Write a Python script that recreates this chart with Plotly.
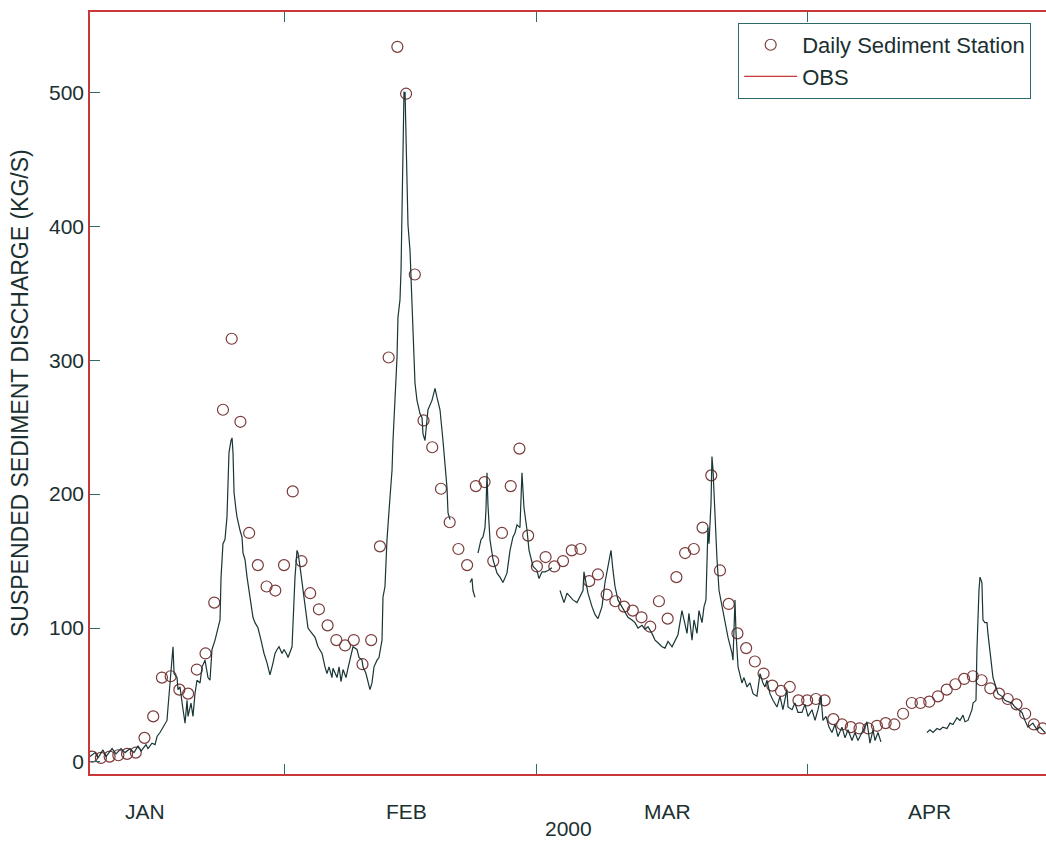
import datetime as dt
import plotly.graph_objects as go

# Daily sediment station record (kg/s), one value per day starting 10 Jan 2000
station_start = dt.datetime(2000, 1, 10)
station_kgs = [
    4, 3, 4, 5, 6, 7, 18, 34, 63, 64, 54, 51, 69, 81, 119, 263, 316, 254, 171, 147, 131, 128,
    147, 202, 150, 126, 114, 102, 91, 87, 91, 73, 91, 161, 302, 534, 499, 364, 255, 235, 204,
    179, 159, 147, 206, 209, 150, 171, 206, 234, 169,
    146, 153, 146, 150, 158, 159, 135, 140, 125, 120, 116, 113, 108, 101, 120, 107, 138, 156,
    159, 175, 214, 143, 118, 96, 85, 75, 66, 57, 53, 56, 46,
    46, 47, 46, 32, 28, 26, 25, 25, 27, 29, 28, 36, 44, 44, 45, 49, 54, 58, 62, 64, 61, 55,
    51, 47, 43, 36, 28, 25,
]

# OBS-derived discharge: time in days after 1 Jan 2000 and kg/s; None marks a gap
obs_day = [
    8.75, 9.33, 9.67, 10.24, 10.59, 11.28, 11.73, 12.31, 12.77, 13.34, 13.80, 14.26, 14.60,
    15.17, 15.40, 15.86, 16.21, 16.44, 16.78, 17.12, 17.35, 17.58, 17.70, 17.93, 18.16, 18.27,
    18.39, 18.73, 18.84, 19.07, 19.42, 19.65, 19.88, 19.99, 20.33, 20.56, 20.79, 21.02, 21.37,
    21.60, 21.94, 22.28, 22.51, 22.74, 23.09, 23.43, 23.66, 23.78, 24.00, 24.23, 24.46, 24.58,
    24.69, 24.92, 25.04, 25.15, 25.27, 25.50, 25.61, 25.95, 26.18, 26.30, 26.53, 26.76, 27.10,
    27.44, 27.67, 28.02, 28.36, 28.71, 29.05, 29.39, 29.74, 29.97, 30.20, 30.43, 30.77, 31.00,
    31.34, 31.46, 31.92, 32.26, 32.49, 32.61, 32.83, 33.18, 33.52, 33.75, 34.21, 34.56, 34.90,
    35.36, 35.70, 35.93, 36.16, 36.50, 36.62, 37.08, 37.31, 37.54, 37.77, 38.11, 38.34, 38.68,
    38.91, 39.37, 39.60, 39.94, 40.06, 40.40, 40.63, 40.86, 41.09, 41.32, 41.67, 41.89, 42.24,
    42.35, 42.58, 42.81, 43.16, 43.39, 43.50, 43.73, 43.96, 44.07, 44.30, 44.42, 44.53, 44.65,
    44.76, 44.88, 44.99, 45.11, 45.22, 45.45, 45.56, 45.68, 45.79, 46.02, 46.25, 46.60, 46.83,
    46.94, 47.17, 47.51, 47.97, 48.32, 48.55, 48.89, 49.23, 49.46, 49.69, 49.81, 50.04,
    None,
    52.33, 52.56, 52.67, 52.90,
    None,
    53.25, 53.36, 53.59, 53.82, 54.05, 54.16, 54.28, 54.39, 54.62, 54.97, 55.43, 55.77, 56.11,
    56.57, 56.92, 57.26, 57.49, 57.72, 58.06, 58.29, 58.52, 58.87, 59.10, 59.56, 60.01, 60.24,
    60.59, 60.93, 61.28, 61.73,
    None,
    62.65, 62.88, 63.11, 63.45, 63.80, 64.14, 64.60, 64.94, 65.29, 65.40, 65.63, 65.86, 66.32,
    66.67, 67.01, 67.47, 67.81, 68.16, 68.50, 68.73, 68.96, 69.30, 69.76, 70.11, 70.45, 70.91,
    71.25, 71.60, 72.06, 72.40, 72.74, 73.20, 73.55, 73.89, 74.35, 74.69, 75.04, 75.50, 75.84,
    76.18, 76.64, 76.87, 77.22, 77.44, 77.79, 78.02, 78.36, 78.59, 78.94, 79.17, 79.39, 79.62,
    79.74, 79.97, 80.08, 80.20, 80.43, 80.66, 80.89, 81.23, 81.57, 81.92, 82.38, 82.49, 82.72,
    82.84, 83.07, 83.29, 83.52, 83.75, 84.10, 84.44, 84.79, 85.24, 85.59, 85.93, 86.16, 86.39,
    86.73, 87.08, 87.54, 87.88, 88.22, 88.68, 88.80, 89.26, 89.60, 89.94, 90.40, 90.75, 91.09,
    91.55, 91.90, 92.24, 92.58, 92.81, 93.16, 93.50, 93.84, 94.19, 94.53, 94.99, 95.34, 95.68,
    96.14, 96.48, 96.83, 97.28, 97.63, 97.86, 98.20, 98.55, 98.78, 99.12, 99.46,
    None,
    104.74, 105.08, 105.43, 105.89, 106.23, 106.57, 107.03, 107.38, 107.72, 108.18, 108.52,
    108.87, 109.10, 109.44, 109.90, 110.02, 110.36, 110.47, 110.70, 110.82, 111.04, 111.16,
    111.39, 111.62, 111.73, 112.08, 112.31, 112.65, 112.88, 113.34, 113.68, 114.03, 114.49,
    114.83, 115.17, 115.63, 115.98, 116.32, 116.89, 117.35, 117.70, 118.27,
]
obs_kgs = [
    4, 7, 3, 9, 4, 10, 6, 10, 7, 10, 7, 12, 8,
    13, 10, 14, 13, 19, 22, 26, 28, 31, 41, 61, 76, 86,
    66, 63, 54, 56, 39, 29, 46, 34, 44, 34, 51, 61, 59,
    71, 76, 63, 61, 84, 91, 100, 106, 138, 163, 166, 183, 208,
    231, 240, 242, 231, 201, 188, 183, 173, 168, 156, 151, 138, 123,
    108, 104, 100, 91, 81, 74, 65, 74, 81, 84, 86, 81, 84,
    80, 78, 86, 138, 158, 156, 146, 128, 111, 100, 96, 93, 86,
    81, 71, 66, 71, 63, 70, 63, 71, 60, 69, 63, 70, 81,
    86, 84, 78, 76, 71, 66, 59, 54, 59, 71, 76, 78, 91,
    123, 131, 166, 198, 218, 240, 272, 302, 332, 345, 367, 412, 464,
    500, 500, 464, 427, 401, 382, 363, 345, 315, 283, 270, 260, 257,
    245, 240, 263, 270, 279, 272, 263, 240, 225, 205, 186, 181,
    None,
    134, 137, 128, 123,
    None,
    156, 160, 166, 168, 175, 188, 216, 192, 166, 151, 141, 138, 134,
    141, 158, 168, 171, 177, 175, 216, 190, 173, 158, 146, 143, 137,
    142, 142, 143, 145,
    None,
    128, 123, 119, 126, 123, 121, 119, 123, 128, 142, 134, 126, 116,
    110, 107, 116, 134, 146, 158, 143, 131, 121, 116, 112, 108, 106,
    104, 100, 102, 99, 101, 96, 91, 89, 86, 85, 90, 86, 91,
    95, 113, 106, 96, 111, 91, 106, 96, 113, 104, 116, 121, 175,
    163, 193, 228, 218, 183, 151, 128, 116, 106, 93, 81, 76, 121,
    96, 71, 66, 59, 63, 56, 59, 51, 49, 66, 59, 56, 61,
    51, 46, 41, 49, 39, 54, 41, 39, 44, 37, 37, 43, 34,
    39, 31, 39, 49, 31, 34, 26, 22, 28, 19, 26, 18, 24,
    16, 22, 16, 22, 26, 30, 14, 24, 16, 22, 15,
    None,
    22, 24, 22, 25, 24, 26, 25, 29, 28, 33, 31,
    35, 30, 31, 39, 44, 46, 84, 128, 138, 134, 106,
    104, 104, 96, 78, 63, 56, 51, 49, 46, 45, 44,
    41, 39, 37, 31, 26, 29, 24, 26, 22,
]

month_names = ["JAN", "FEB", "MAR", "APR"]
month_mid = ["2000-01-16", "2000-02-15", "2000-03-16", "2000-04-15"]
month_starts = ["2000-02-01", "2000-03-01", "2000-04-01"]
y_ticks = [0, 100, 200, 300, 400, 500]

FRAME = "#c8373a"
TICK = "#2d6b6b"
TEXT = "#1b3030"
LINE = "#1a3535"
MARK = "#7a3a3a"
FONT = "Liberation Sans, Arial, sans-serif"

origin = dt.datetime(2000, 1, 1)
obs_x = [origin + dt.timedelta(days=d) if d is not None else None for d in obs_day]
station_x = [station_start + dt.timedelta(days=i) for i in range(len(station_kgs))]

fig = go.Figure()
fig.add_trace(go.Scatter(
    x=station_x, y=station_kgs, mode="markers", name="Daily Sediment Station",
    marker=dict(symbol="circle-open", size=11, color=MARK, line=dict(width=1.2)),
))
fig.add_trace(go.Scatter(
    x=obs_x, y=obs_kgs, mode="lines", showlegend=False, connectgaps=False,
    line=dict(color=LINE, width=1.2),
))
# legend entry for the OBS record
fig.add_trace(go.Scatter(
    x=[None], y=[None], mode="lines", name="OBS",
    line=dict(color=FRAME, width=1.2),
))

annotations = [
    dict(x=m, y=-0.0486, xref="x", yref="paper", text=n, showarrow=False,
         yanchor="middle", font=dict(size=21, color=TEXT, family=FONT))
    for m, n in zip(month_mid, month_names)
]
annotations.append(dict(x=0.5, y=-0.0709, xref="paper", yref="paper", text="2000",
                        showarrow=False, yanchor="middle",
                        font=dict(size=21, color=TEXT, family=FONT)))
annotations.append(dict(x=-0.0732, y=0.5, xref="paper", yref="paper",
                        text="SUSPENDED SEDIMENT DISCHARGE (KG/S)", textangle=-90,
                        showarrow=False, xanchor="center", yanchor="middle",
                        font=dict(size=23, color=TEXT, family=FONT)))

fig.update_layout(
    width=1046, height=841,
    margin=dict(l=90, r=0, t=12, b=67),
    paper_bgcolor="white", plot_bgcolor="white",
    font=dict(family=FONT, color=TEXT),
    xaxis=dict(
        type="date",
        range=[dt.datetime(2000, 1, 9, 18), dt.datetime(2000, 4, 28, 9, 20)],
        tickvals=month_starts, showticklabels=False,
        ticks="inside", ticklen=10, tickwidth=1, tickcolor=TICK,
        showline=True, linecolor=FRAME, linewidth=1.5, mirror="ticks",
        showgrid=False, zeroline=False,
    ),
    yaxis=dict(
        range=[-9, 560], tickvals=y_ticks,
        ticks="inside", ticklen=10, tickwidth=1, tickcolor=TICK,
        tickfont=dict(size=21, color=TEXT, family=FONT),
        showline=True, linecolor=FRAME, linewidth=1.5, mirror=False,
        showgrid=False, zeroline=False,
    ),
    legend=dict(
        x=0.678, y=0.9856, xanchor="left", yanchor="top",
        bgcolor="white", bordercolor=TICK, borderwidth=1,
        font=dict(size=22, color=TEXT, family=FONT),
        itemwidth=53, tracegroupgap=0,
    ),
    annotations=annotations,
)

fig.write_html("out.html")
